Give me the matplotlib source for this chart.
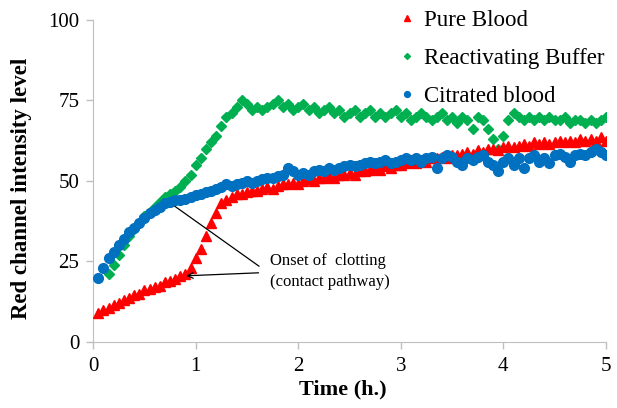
import numpy as np
import matplotlib
matplotlib.use("Agg")
import matplotlib.pyplot as plt

# ---- data ----
time_red = np.round(np.arange(1, 101) * 0.05, 2)
pure_blood = [9, 10, 10.5, 11.5, 12, 13, 13.5, 14.5, 15, 16,
              16.5, 17, 17.5, 18.5, 19, 19.5, 20.5, 21, 23, 26,
              29, 33, 37, 40, 43, 44, 45, 46, 46, 46.5,
              47, 47, 47.5, 48, 47.5, 48.5, 49, 49, 49.5, 49,
              50, 50.5, 50, 51, 51, 51.5, 51, 52, 52, 52.5,
              52, 53, 53, 53.5, 54, 53.5, 54.5, 54, 55, 55,
              55.5, 56, 55.5, 56.5, 56, 57, 57, 57.5, 57, 58,
              58, 58.5, 59, 58.5, 59.5, 59, 60, 60, 59.5, 60.5,
              61, 60.5, 61, 61.5, 61, 62, 61.5, 62, 61.5, 62,
              62.5, 62, 62.5, 62, 63, 62.5, 63, 62.5, 63.5, 62.5]

time_blue = np.round(np.arange(1, 101) * 0.05, 2)
citrated_blood = [20, 23, 26, 28, 30, 32, 34, 35.5, 37, 38.5,
                  40, 41, 42, 43, 43.5, 44, 44, 44.5, 45, 45.5,
                  46, 46.5, 47, 47.5, 48, 49, 48.5, 49, 49.5, 50,
                  49.5, 50, 50.5, 51, 51, 51.5, 52, 54, 53, 52,
                  52.5, 52, 53, 53.5, 53, 54, 53.5, 54, 54.5, 55,
                  54.5, 55, 55.5, 56, 55.5, 56, 56.5, 55.5, 56, 56.5,
                  57, 56.5, 57, 56, 57, 57.5, 54, 57, 58, 57.5,
                  56, 55, 57, 56.5, 57.5, 58, 56, 55, 53, 56,
                  57, 55, 57, 54, 57, 58, 56, 57, 55.5, 58,
                  58.5, 57.5, 56, 58, 58.5, 58, 59, 60, 59, 58]

time_green = np.round(np.arange(3, 101) * 0.05, 2)
reactivating_buffer = [21, 24, 27, 30, 33, 35, 37, 39, 40.5, 42,
                       43.5, 45, 46, 47, 48, 50, 52, 55, 57, 60,
                       62, 64, 67, 70, 71, 73, 75, 74, 72, 73,
                       72, 73, 74, 75, 73, 74, 72, 73, 74, 72,
                       73, 71, 72, 73, 71, 72, 70, 71, 72, 70,
                       71, 72, 70, 71, 70, 71, 72, 70, 71, 69,
                       70, 71, 70, 69, 70, 71, 69, 70, 68, 70,
                       69, 66, 70, 69, 66, 63, 60, 64, 69, 71,
                       70, 69, 70, 69, 70, 69, 70, 69, 69, 70,
                       68, 69, 69, 68, 69, 68, 69, 70]

x_ticks = [0, 1, 2, 3, 4, 5]
y_ticks = [0, 25, 50, 75, 100]

RED = "#ff0000"
GREEN = "#00b050"
BLUE = "#0070c0"
GRAY = "#bfbfbf"

plt.rcParams['font.family'] = ['Liberation Serif', 'DejaVu Serif']

fig = plt.figure(figsize=(6.17, 4.08), dpi=100)
ax = fig.add_axes([0.151, 0.162, 0.831, 0.789])

ax.plot(time_red, pure_blood, linestyle='none', marker='^', ms=7,
        color=RED, mec=RED, label='Pure Blood', zorder=3)
ax.plot(time_green, reactivating_buffer, linestyle='none', marker='D', ms=5,
        color=GREEN, mec=GREEN, label='Reactivating Buffer', zorder=2)
ax.plot(time_blue, citrated_blood, linestyle='none', marker='o', ms=7,
        color=BLUE, mec=BLUE, label='Citrated blood', zorder=4)

ax.set_xlim(0, 5)
ax.set_ylim(0, 100)
ax.set_xticks(x_ticks)
ax.set_yticks(y_ticks)
ax.tick_params(axis='both', labelsize=15, color=GRAY, length=5, width=1)
ax.tick_params(axis='x', pad=6)
ax.tick_params(axis='y', pad=5)
for s in ['top', 'right']:
    ax.spines[s].set_visible(False)
for s in ['left', 'bottom']:
    ax.spines[s].set_color(GRAY)

fig.text(343 / 617, 1 - 389 / 408, 'Time (h.)', fontsize=16, fontweight='bold',
         ha='center', va='center')
fig.text(22 / 617, 1 - 188 / 408, 'Red channel intensity level', fontsize=16.5,
         fontweight='bold', ha='center', va='center', rotation=90)

leg = fig.legend(*ax.get_legend_handles_labels(), loc='upper left',
                 bbox_to_anchor=(400 / 617, 1 - 10 / 408), frameon=False,
                 fontsize=16.5, markerscale=0.6, handlelength=0.6, handletextpad=0.45,
                 labelspacing=0.75, borderpad=0, borderaxespad=0)

# annotation
ax.annotate('', xy=(0.67, 45), xytext=(1.64, 23),
            arrowprops=dict(arrowstyle='->', color='black', lw=0.9))
ax.annotate('', xy=(0.88, 20.5), xytext=(1.64, 21.5),
            arrowprops=dict(arrowstyle='->', color='black', lw=0.9))
ax.text(1.72, 21.8, 'Onset of  clotting\n(contact pathway)', fontsize=12,
        ha='left', va='center', linespacing=1.4)

fig.savefig('out.png', dpi=100)
